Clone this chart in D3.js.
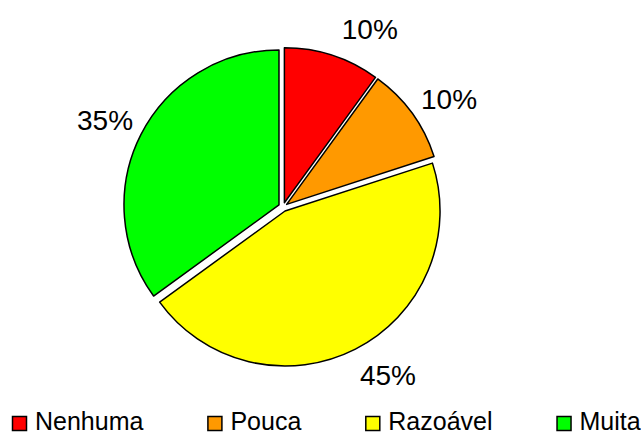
<!DOCTYPE html>
<html>
<head>
<meta charset="utf-8">
<script src="https://cdn.jsdelivr.net/npm/d3@7"></script>
<style>
  body { margin: 0; background: #fff; }
  text { font-family: "Liberation Sans", Arial, sans-serif; fill: #000; }
</style>
</head>
<body>
<div id="chart"></div>
<script>
// data
var categories = ["Nenhuma", "Pouca", "Razoável", "Muita"];
var values = [10, 10, 45, 35];
var colors = ["#ff0000", "#ff9900", "#ffff00", "#00ff00"];

// layout tweaks for the data labels (degrees, best-fit look)
var labelNudge = [8, 3, -5, -1];

var W = 641, H = 435;
var cx = 283, cy = 207, radius = 155, explode = 4.5, labelR = 198;

var svg = d3.select("#chart").append("svg")
    .attr("width", W)
    .attr("height", H);

var pie = d3.pie().sort(null).value(function(d) { return d; });
var arcs = pie(values);
var total = d3.sum(values);
var arc = d3.arc().innerRadius(0).outerRadius(radius);

var g = svg.append("g").attr("transform", "translate(" + cx + "," + cy + ")");

// slices, each pulled out a bit along its mid angle
g.selectAll("path.slice")
    .data(arcs)
    .enter().append("path")
    .attr("class", "slice")
    .attr("d", arc)
    .attr("transform", function(d) {
        var a = (d.startAngle + d.endAngle) / 2;
        return "translate(" + (explode * Math.sin(a)) + "," + (-explode * Math.cos(a)) + ")";
    })
    .style("fill", function(d, i) { return colors[i]; })
    .style("stroke", "#000")
    .style("stroke-width", 1.5)
    .style("stroke-linejoin", "round");

// percent labels
g.selectAll("text.lbl")
    .data(arcs)
    .enter().append("text")
    .attr("class", "lbl")
    .attr("x", function(d, i) {
        var a = (d.startAngle + d.endAngle) / 2 + labelNudge[i] * Math.PI / 180;
        return labelR * Math.sin(a);
    })
    .attr("y", function(d, i) {
        var a = (d.startAngle + d.endAngle) / 2 + labelNudge[i] * Math.PI / 180;
        return -labelR * Math.cos(a);
    })
    .attr("dy", "0.36em")
    .style("text-anchor", "middle")
    .style("font-size", "28px")
    .text(function(d) { return Math.round(d.value / total * 100) + "%"; });

// legend
var legend = svg.append("g").attr("class", "legend");
var lx = 12, ly = 429.5, box = 14;
categories.forEach(function(c, i) {
    var item = legend.append("g");
    item.append("rect")
        .attr("x", lx + 0.5)
        .attr("y", ly - box + 1)
        .attr("width", box)
        .attr("height", box)
        .style("fill", colors[i])
        .style("stroke", "#000")
        .style("stroke-width", 1.5);
    var t = item.append("text")
        .attr("x", lx + box + 9)
        .attr("y", ly)
        .style("font-size", "25px")
        .text(c);
    lx += box + 9 + t.node().getComputedTextLength() + 64;
});
</script>
</body>
</html>
